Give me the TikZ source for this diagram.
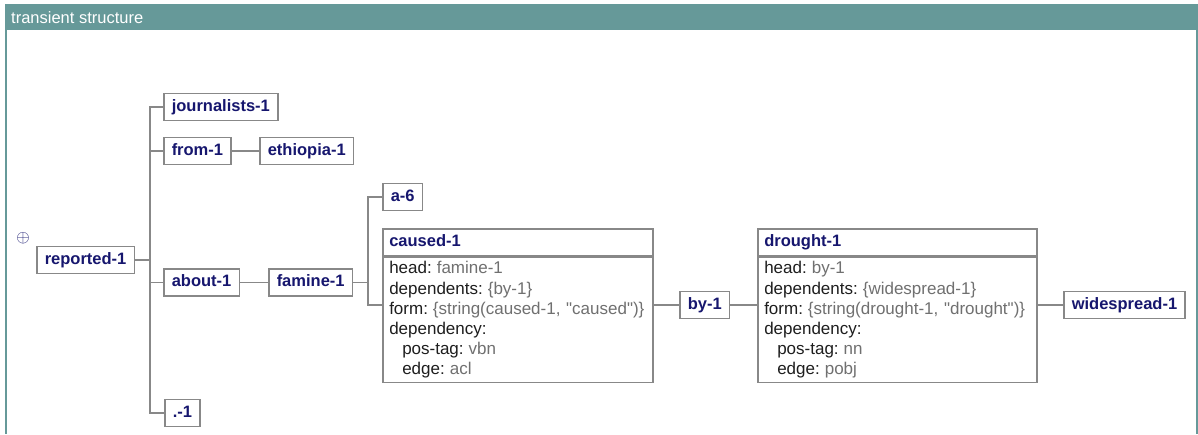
\documentclass[tikz,border=0pt]{standalone}
\usepackage{fontspec}
\setmainfont{Liberation Sans}[Ligatures=TeXOff]
\usetikzlibrary{positioning}

\newcommand{\lab}[1]{\textcolor{labelblack}{#1}}
\newcommand{\val}[1]{\hspace{5pt}\textcolor{valgray}{#1}}

\begin{document}
\begin{tikzpicture}[x=1pt, y=-1pt,
  unit/.style={draw=boxgray, line width=1.5pt, fill=white, text=unitnavy,
    font=\fontsize{16.5}{18}\selectfont\bfseries, inner xsep=8pt, inner ysep=0pt,
    text height=12pt, text depth=3.5pt, minimum height=27pt, anchor=west},
  feathead/.style={unit, align=left, inner xsep=6.5pt},
  featbody/.style={draw=boxgray, line width=1.5pt, fill=white, align=left,
    font=\fontsize{17}{20.2}\selectfont, inner xsep=6.5pt, inner ysep=0pt,
    minimum height=125pt, anchor=north west},
  link/.style={draw=boxgray, line width=1.5pt}]
  \definecolor{barteal}{RGB}{102,153,153}
  \definecolor{boxgray}{RGB}{136,136,136}
  \definecolor{unitnavy}{RGB}{22,22,110}
  \definecolor{valgray}{RGB}{112,112,112}
  \definecolor{labelblack}{RGB}{30,30,30}
  \useasboundingbox (0,0) rectangle (1198,434);

  %--- Frame ---
  \fill[barteal] (5,4) rectangle (1198,30);
  \fill[barteal] (5,30) rectangle (7,434);
  \fill[barteal] (1196,30) rectangle (1198,434);
  \node[anchor=base west, text=white, font=\fontsize{16.5}{18}\selectfont, inner sep=0pt]
    (title) at (11,23) {transient structure};

  %--- Root ---
  \node[text=unitnavy, inner sep=0pt, font=\fontsize{17}{17}\selectfont] (expand) at (23,238) {$\oplus$};
  \node[unit] (reported) at (36,260) {reported-1};

  %--- First level ---
  \coordinate (trunk) at (150,0);
  \node[unit] (journalists) at (163,107) {journalists-1};
  \node[unit] (from)        at (163,151) {from-1};
  \node[unit] (ethiopia)    at (259,151) {ethiopia-1};
  \node[unit] (about)       at (163,282.5) {about-1};
  \node[unit] (famine)      at (268,282.5) {famine-1};
  \node[unit] (dot)         at (164,413) {.-1};

  \draw[link] (reported.east) -- (reported.east -| trunk);
  \draw[link] (journalists.west) -- (journalists.west -| trunk)
    -- (dot.west -| trunk) -- (dot.west);
  \draw[link] (from.west) -- (from.west -| trunk);
  \draw[link] (about.west) -- (about.west -| trunk);
  \draw[link] (from) -- (ethiopia);
  \draw[link] (about) -- (famine);

  %--- caused-1 ---
  \coordinate (fork) at (368,0);
  \node[unit] (asix) at (382,197) {a-6};
  \node[feathead, text width=257pt] (caused) at (382,242.5) {caused-1};
  \node[featbody, text width=257pt] (causedbody) at (caused.south west) {%
    \lab{head:}\val{famine-1}\\
    \lab{dependents:}\val{\{by-1\}}\\
    \lab{form:}\val{\{string(caused-1, "caused")\}}\\
    \lab{dependency:}\\
    \hspace*{13pt}\lab{pos-tag:}\val{vbn}\\
    \hspace*{13pt}\lab{edge:}\val{acl}};

  \node[unit] (by) at (679,305) {by-1};

  \draw[link] (famine.east) -- (famine.east -| fork);
  \draw[link] (asix.west) -- (asix.west -| fork)
    -- (by.west -| fork) -- (by.west -| causedbody.west);
  \draw[link] (by.west -| causedbody.east) -- (by.west);

  %--- drought-1 ---
  \node[feathead, text width=266pt] (drought) at (757,242.5) {drought-1};
  \node[featbody, text width=266pt] (droughtbody) at (drought.south west) {%
    \lab{head:}\val{by-1}\\
    \lab{dependents:}\val{\{widespread-1\}}\\
    \lab{form:}\val{\{string(drought-1, "drought")\}}\\
    \lab{dependency:}\\
    \hspace*{13pt}\lab{pos-tag:}\val{nn}\\
    \hspace*{13pt}\lab{edge:}\val{pobj}};

  \node[unit] (widespread) at (1063,305) {widespread-1};

  \draw[link] (by.east) -- (by.east -| droughtbody.west);
  \draw[link] (widespread.west -| droughtbody.east) -- (widespread.west);

\end{tikzpicture}
\end{document}
